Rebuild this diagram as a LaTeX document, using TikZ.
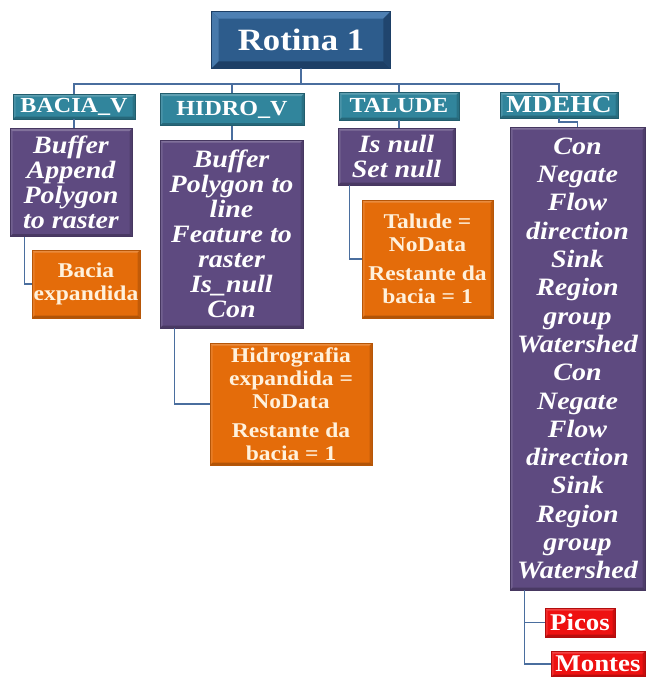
\documentclass[tikz,border=0pt]{standalone}
\usepackage{fontspec}
\setmainfont{Liberation Serif}[FakeStretch=1.12]
\definecolor{rootblue}{HTML}{2D5C8C}
\definecolor{rootlight}{HTML}{4E80B3}
\definecolor{rootdark}{HTML}{1D3F66}
\definecolor{tealc}{HTML}{31859C}
\definecolor{purplec}{HTML}{5E4A80}
\definecolor{orangec}{HTML}{E46C0A}
\definecolor{redc}{HTML}{EE1111}
\definecolor{linec}{HTML}{4A6E9E}
\definecolor{creamc}{HTML}{FFF1DC}
\begin{document}
\begin{tikzpicture}[x=1pt,y=-1pt,
  bevel/.style={path picture={
    \fill[white,opacity=0.22] (path picture bounding box.north west) -- (path picture bounding box.north east)
      -- ([shift={(-2.5pt,-2.5pt)}]path picture bounding box.north east) -- ([shift={(2.5pt,-2.5pt)}]path picture bounding box.north west) -- cycle;
    \fill[white,opacity=0.12] (path picture bounding box.north west) -- (path picture bounding box.south west)
      -- ([shift={(2.5pt,2.5pt)}]path picture bounding box.south west) -- ([shift={(2.5pt,-2.5pt)}]path picture bounding box.north west) -- cycle;
    \fill[black,opacity=0.22] (path picture bounding box.south west) -- (path picture bounding box.south east)
      -- ([shift={(-2.5pt,2.5pt)}]path picture bounding box.south east) -- ([shift={(2.5pt,2.5pt)}]path picture bounding box.south west) -- cycle;
    \fill[black,opacity=0.15] (path picture bounding box.north east) -- (path picture bounding box.south east)
      -- ([shift={(-2.5pt,2.5pt)}]path picture bounding box.south east) -- ([shift={(-2.5pt,-2.5pt)}]path picture bounding box.north east) -- cycle;
  }},
  basebox/.style={rectangle, inner sep=0pt, align=center},
  rootbox/.style={basebox, fill=rootblue, draw=rootdark, line width=0.8pt, text=white,
     font=\fontsize{31}{31}\selectfont\bfseries},
  headbox/.style={basebox, bevel, fill=tealc, draw=tealc!70!black, line width=0.6pt, text=white,
     font=\fontsize{21.5}{21.5}\selectfont\bfseries},
  purpbox/.style={basebox, bevel, fill=purplec, draw=purplec!75!black, line width=0.6pt, text=white,
     font=\fontsize{25}{25}\selectfont\bfseries\itshape},
  orgbox/.style={basebox, bevel, fill=orangec, draw=orangec!80!black, line width=0.6pt, text=creamc,
     font=\fontsize{21}{23}\selectfont\bfseries},
  redbox/.style={basebox, bevel, fill=redc, draw=redc!75!black, line width=0.6pt, text=white,
     font=\fontsize{24}{24}\selectfont\bfseries},
  conn/.style={draw=linec, line width=1.5pt}
]
\useasboundingbox (0,0) rectangle (647,677);

\coordinate (bus) at (0,84);

% root
\node[rootbox, minimum width=178pt, minimum height=56pt] (root) at (301,40) {Rotina 1};

% headers
\node[headbox, minimum width=122pt, minimum height=25pt] (h1) at (74,106.5) {BACIA\_V};
\node[headbox, minimum width=144pt, minimum height=32pt] (h2) at (232,109.5) {HIDRO\_V};
\node[headbox, minimum width=120pt, minimum height=28pt] (h3) at (399,106) {TALUDE};
\node[headbox, minimum width=118pt, minimum height=26pt,
  font=\fontsize{24.5}{24.5}\selectfont\bfseries] (h4) at (559,105) {MDEHC};

% purple boxes
\node[purpbox, minimum width=122pt, minimum height=108pt] (p1) at (71,182.5)
  {Buffer\\Append\\Polygon\\to raster};
\node[purpbox, minimum width=143pt, minimum height=188pt] (p2) at (231.5,234)
  {Buffer\\Polygon to\\line\\Feature to\\raster\\Is\_null\\Con};
\node[purpbox, minimum width=117pt, minimum height=57pt] (p3) at (396.5,156.5)
  {Is null\\Set null};
\node[purpbox, minimum width=135pt, minimum height=463pt,
  font=\fontsize{25}{28.3}\selectfont\bfseries\itshape] (p4) at (577.5,358.5)
  {Con\\Negate\\Flow\\direction\\Sink\\Region\\group\\Watershed\\Con\\Negate\\Flow\\direction\\Sink\\Region\\group\\Watershed};

% orange boxes
\node[orgbox, minimum width=108pt, minimum height=68pt] (o1) at (86,284)
  {Bacia\\expandida};
\node[orgbox, minimum width=162pt, minimum height=122pt] (o2) at (291,404)
  {Hidrografia\\expandida =\\NoData\\[6pt]Restante da\\bacia = 1};
\node[orgbox, minimum width=131pt, minimum height=118pt] (o3) at (427.5,259)
  {Talude =\\NoData\\[6pt]Restante da\\bacia = 1};

% red boxes
\node[redbox, minimum width=70pt, minimum height=29pt] (r1) at (580,622.5) {Picos};
\node[redbox, minimum width=94pt, minimum height=26pt] (r2) at (598,664) {Montes};

% root bevel
\fill[rootlight] (root.north west) -- (root.north east) -- ([shift={(-7pt,-7pt)}]root.north east) -- ([shift={(7pt,-7pt)}]root.north west) -- cycle;
\fill[rootlight!80!rootblue] (root.north west) -- (root.south west) -- ([shift={(7pt,7pt)}]root.south west) -- ([shift={(7pt,-7pt)}]root.north west) -- cycle;
\fill[rootdark] (root.south west) -- (root.south east) -- ([shift={(-7pt,7pt)}]root.south east) -- ([shift={(7pt,7pt)}]root.south west) -- cycle;
\fill[rootdark!80!rootblue] (root.north east) -- (root.south east) -- ([shift={(-7pt,7pt)}]root.south east) -- ([shift={(-7pt,-7pt)}]root.north east) -- cycle;
\draw[rootdark, line width=0.8pt] (root.north west) rectangle (root.south east);

% connectors
\draw[conn] (root.south) -- (root.south |- bus);
\draw[conn] (h1.north) -- (h1.north |- bus) -- (h4.north |- bus) -- (h4.north);
\draw[conn] (h2.north) -- (h2.north |- bus);
\draw[conn] (h3.north) -- (h3.north |- bus);

\draw[conn] (h1.south) -- (h1.south |- p1.north);
\draw[conn] (h2.south) -- (h2.south |- p2.north);
\draw[conn] (h3.south) -- (h3.south |- p3.north);
\coordinate (m4) at (559,122);
\draw[conn] (h4.south) -- (m4) -| (p4.north);

\draw[conn] ([xshift=15pt]p1.south west) |- (o1.west);
\draw[conn] ([xshift=15pt]p2.south west) |- (o2.west);
\draw[conn] ([xshift=12pt]p3.south west) |- (o3.west);
\draw[conn] ([xshift=15pt]p4.south west) |- (r1.west);
\draw[conn] ([xshift=15pt]p4.south west) |- (r2.west);
\end{tikzpicture}
\end{document}
